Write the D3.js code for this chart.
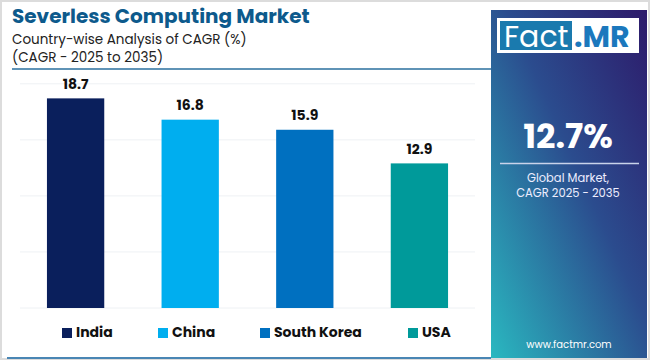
<!DOCTYPE html>
<html><head><meta charset="utf-8">
<script src="https://cdn.jsdelivr.net/npm/d3@7"></script>
<style>body{margin:0;background:#fff}svg{display:block}</style>
</head><body>
<svg id="c" width="650" height="360"></svg>
<script>
const categories = ["India", "China", "South Korea", "USA"];
const values = [18.7, 16.8, 15.9, 12.9];
const colors = ["#0a1f5c", "#00aeef", "#0070c0", "#009a9a"];
const yTicks = [0, 5, 10, 15, 20];
const globalCagr = "12.7%";

const svg = d3.select("#c");
const font = "Poppins, Inter, 'Open Sans', sans-serif";

// frame
svg.append("rect").attr("x",0.5).attr("y",0.5).attr("width",649).attr("height",359)
  .attr("fill","#fff").attr("stroke","#dcdcdc").attr("stroke-width",3);

// title
svg.append("text").attr("x",12).attr("y",23).attr("font-family",font).attr("font-weight",700)
  .attr("font-size",20).attr("fill","#0d5a8c").text("Severless Computing Market");
svg.append("text").attr("x",12).attr("y",44).attr("font-family",font).attr("font-size",13.5)
  .attr("fill","#222").text("Country-wise Analysis of CAGR (%)");
svg.append("text").attr("x",12).attr("y",62).attr("font-family",font).attr("font-size",13.5)
  .attr("fill","#222").text("(CAGR - 2025 to 2035)");
svg.append("line").attr("x1",12).attr("x2",492).attr("y1",69).attr("y2",69)
  .attr("stroke","#2a6f9e").attr("stroke-width",1.5);

// chart
const x = d3.scaleBand().domain(categories).range([18.3, 476.7]).paddingInner(0.5).paddingOuter(0.25);
const y = d3.scaleLinear().domain([0, 20]).range([308, 83.8]);

const g = svg.append("g");
g.selectAll("line.grid").data(yTicks).join("line").attr("class","grid")
  .attr("x1",20).attr("x2",475).attr("y1",d=>y(d)).attr("y2",d=>y(d))
  .attr("stroke","#eef1f4").attr("stroke-width",1);

g.selectAll("rect.bar").data(values).join("rect").attr("class","bar")
  .attr("x",(d,i)=>x(categories[i])).attr("width",x.bandwidth())
  .attr("y",d=>y(d)).attr("height",d=>y(0)-y(d)).attr("fill",(d,i)=>colors[i]);

g.selectAll("text.val").data(values).join("text").attr("class","val")
  .attr("x",(d,i)=>x(categories[i])+x.bandwidth()/2).attr("y",d=>y(d)-9.5)
  .attr("text-anchor","middle").attr("font-family",font).attr("font-weight",700)
  .attr("font-size",14).attr("fill","#111").text(d=>d.toFixed(1));

// legend
const legX = [62, 158, 260, 408];
const leg = svg.append("g");
categories.forEach((c,i)=>{
  leg.append("rect").attr("x",legX[i]).attr("y",328).attr("width",10).attr("height",10).attr("fill",colors[i]);
  leg.append("text").attr("x",legX[i]+14).attr("y",337).attr("font-family",font).attr("font-weight",700)
    .attr("font-size",14).attr("fill","#111").text(c);
});
svg.append("line").attr("x1",7).attr("x2",491).attr("y1",358).attr("y2",358)
  .attr("stroke","#4a86b4").attr("stroke-width",2);

// right panel
const defs = svg.append("defs");
const grad = defs.append("linearGradient").attr("id","pg").attr("x1","1").attr("y1","0").attr("x2","0").attr("y2","1");
grad.append("stop").attr("offset","0%").attr("stop-color","#2d1a6a");
grad.append("stop").attr("offset","45%").attr("stop-color","#2b4c8e");
grad.append("stop").attr("offset","100%").attr("stop-color","#2ab8c0");
svg.append("rect").attr("x",491).attr("y",10).attr("width",156).attr("height",348).attr("fill","url(#pg)");

// logo
svg.append("rect").attr("x",497).attr("y",18).attr("width",142).attr("height",35).attr("fill","#fff");
svg.append("rect").attr("x",500).attr("y",21).attr("width",72).attr("height",29).attr("fill","#1a7aae");
svg.append("text").attr("x",504).attr("y",47).attr("font-family",font).attr("font-size",30)
  .attr("fill","#fff").text("Fact");
svg.append("text").attr("x",574).attr("y",47).attr("font-family",font).attr("font-weight",700).attr("font-size",30)
  .attr("fill","#1b78bd").text(".MR");

svg.append("text").attr("x",568).attr("y",148).attr("text-anchor","middle").attr("font-family",font)
  .attr("font-weight",700).attr("font-size",34).attr("fill","#fff").text(globalCagr);
svg.append("line").attr("x1",500).attr("x2",639).attr("y1",163.5).attr("y2",163.5)
  .attr("stroke","#c9d3ea").attr("stroke-width",1.5);
svg.append("text").attr("x",568).attr("y",182).attr("text-anchor","middle").attr("font-family",font)
  .attr("font-size",11.5).attr("fill","#eef").text("Global Market,");
svg.append("text").attr("x",568).attr("y",197).attr("text-anchor","middle").attr("font-family",font)
  .attr("font-size",11.5).attr("fill","#eef").text("CAGR 2025 - 2035");
svg.append("text").attr("x",569).attr("y",348).attr("text-anchor","middle").attr("font-family",font)
  .attr("font-size",10).attr("fill","#fff").text("www.factmr.com");
</script>
</body></html>
